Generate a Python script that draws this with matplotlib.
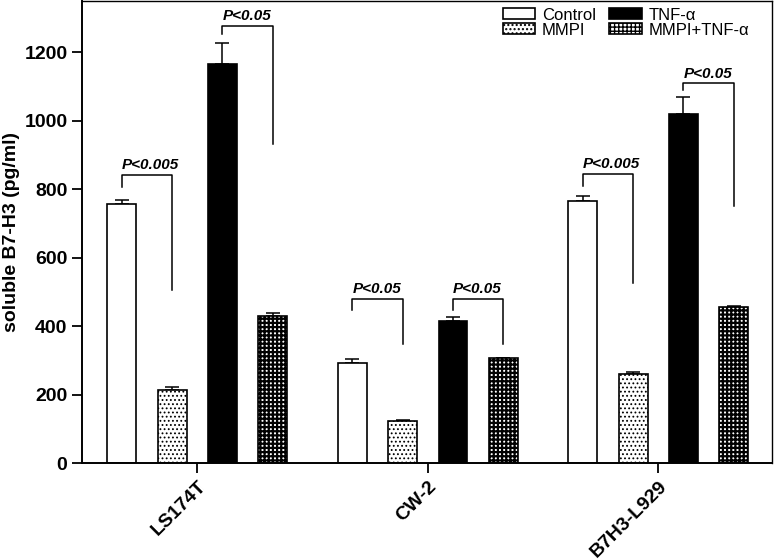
import numpy as np
import matplotlib
matplotlib.use('Agg')
import matplotlib.pyplot as plt

plt.rcParams['font.family'] = ['Liberation Sans', 'DejaVu Sans']

# data
cells = ['LS174T', 'CW-2', 'B7H3-L929']
groups = ['Control', 'MMPI', 'TNF-α', 'MMPI+TNF-α']
control = [756, 293, 766]
control_err = [13, 12, 16]
mmpi = [215, 123, 259]
mmpi_err = [8, 3, 7]
tnf = [1165, 416, 1020]
tnf_err = [63, 12, 49]
combo = [430, 307, 455]
combo_err = [8, 1, 5]

# significance brackets: (cell, left bar, right bar, top, left leg end, right leg end, text)
brackets = [
    (0, 0, 1, 843, 808, 506, 'P<0.005'),
    (0, 2, 3, 1278, 1254, 932, 'P<0.05'),
    (1, 0, 1, 480, 447, 347, 'P<0.05'),
    (1, 2, 3, 480, 447, 347, 'P<0.05'),
    (2, 0, 1, 845, 811, 525, 'P<0.005'),
    (2, 2, 3, 1110, 1089, 751, 'P<0.05'),
]

values = [control, mmpi, tnf, combo]
errors = [control_err, mmpi_err, tnf_err, combo_err]
colors = ['white', 'white', 'black', 'white']
hatches = [None, '....', None, '++++']
hatch_lw = [0.8, 0.8, 0.8, 1.6]

x = np.arange(len(cells))
offsets = [-0.3275, -0.109, 0.109, 0.3275]
width = 0.1245

fig = plt.figure(figsize=(7.74, 5.60), dpi=100)
ax = fig.add_axes([0.106, 0.173, 0.8917, 0.825])

for i in range(4):
    with plt.rc_context({'hatch.linewidth': hatch_lw[i]}):
        ax.bar(x + offsets[i], values[i], width, color=colors[i], edgecolor='black',
               linewidth=1.2, hatch=hatches[i], label=groups[i], zorder=2)
    ax.errorbar(x + offsets[i], values[i], yerr=[np.zeros(3), errors[i]], fmt='none',
                ecolor='black', elinewidth=1.1, capsize=5.3, capthick=1.1, zorder=1)

for c, a, b, top, yl, yr, txt in brackets:
    xl = x[c] + offsets[a]
    xr = x[c] + offsets[b]
    ax.plot([xl, xl, xr, xr], [yl, top, top, yr], color='black', lw=1.1, zorder=3)
    ax.text(xl, top + 8, txt, ha='left', va='bottom', fontsize=11,
            fontweight='bold', fontstyle='italic')

ax.set_xlim(-0.5, 2.494)
ax.set_ylim(0, 1350)
ax.set_yticks([0, 200, 400, 600, 800, 1000, 1200])
ax.set_xticks(x)
ax.set_xticklabels(cells, rotation=45, ha='right', rotation_mode='anchor')
ax.tick_params(axis='both', length=7, width=1.3, labelsize=14, direction='out')
for lab in ax.get_xticklabels() + ax.get_yticklabels():
    lab.set_fontweight('bold')
ax.set_ylabel('soluble B7-H3 (pg/ml)', fontsize=14, fontweight='bold')
ax.yaxis.set_label_coords(-0.09, 0.5)

for s in ['left', 'bottom']:
    ax.spines[s].set_linewidth(1.4)
for s in ['top', 'right']:
    ax.spines[s].set_linewidth(1.0)

# legend in two columns, no frame
ax.legend(ncol=2, frameon=False, fontsize=12, loc='upper left',
          bbox_to_anchor=(0.6495, 0.986), bbox_transform=fig.transFigure,
          borderpad=0, borderaxespad=0, labelspacing=0.0, handlelength=1.95,
          handleheight=0.64, handletextpad=0.4, columnspacing=0.8)

fig.savefig('out.png', dpi=100)
